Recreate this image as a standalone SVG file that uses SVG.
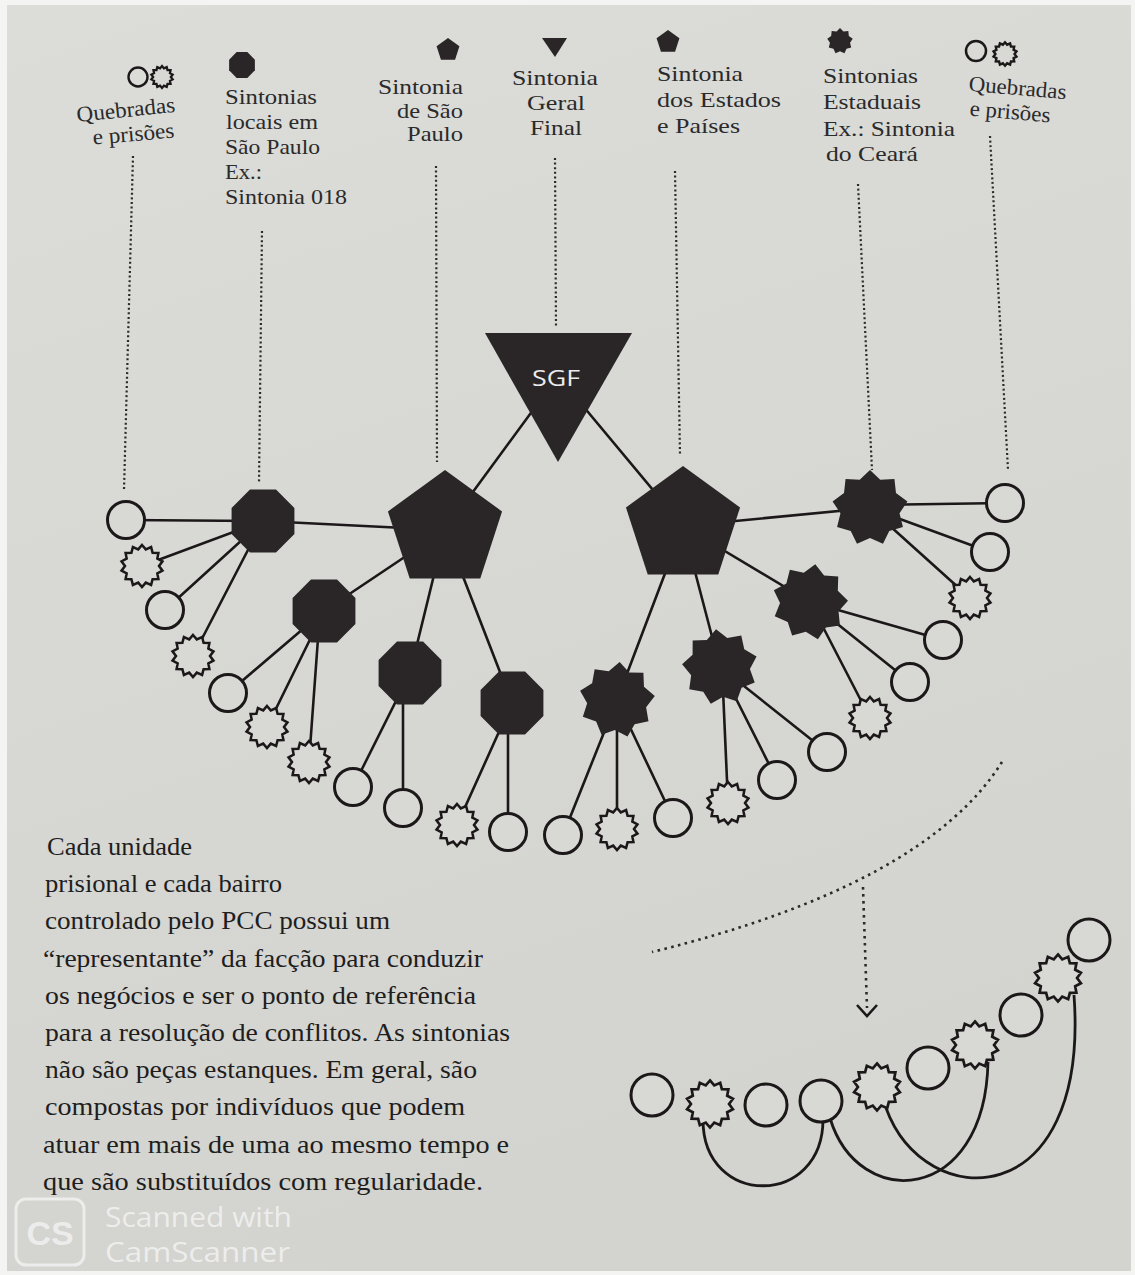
<svg xmlns="http://www.w3.org/2000/svg" xmlns:xlink="http://www.w3.org/1999/xlink" width="1135" height="1275" viewBox="0 0 1135 1275">
<style>
.paper{fill:url(#pg);}
.dark{fill:#2a2526;stroke:none;}
.hollow{fill:#d8d8d4;stroke:#1c1819;stroke-width:3;}
.gear{fill:#d8d8d4;stroke:#1c1819;stroke-width:2.5;stroke-linejoin:miter;}
.edge{stroke:#1c1819;stroke-width:2.6;fill:none;stroke-linecap:round;}
.arc{stroke:#1c1819;stroke-width:2.8;fill:none;}
.dot{stroke:#2a2a2a;stroke-width:2.2;stroke-dasharray:2 2.6;fill:none;}
.dotw{stroke:#2a2a2a;stroke-width:2.6;stroke-dasharray:2.6 4.4;fill:none;}
.lbl{font-family:"Liberation Serif","Times New Roman",serif;font-size:22px;fill:#2a2a2a;}
.para{font-family:"Liberation Serif","Times New Roman",serif;font-size:25px;fill:#1e1e1e;}
.wm{font-family:"Open Sans","Liberation Sans",sans-serif;font-size:27px;fill:#f4f4f4;opacity:.8;}
</style>
<defs>
<linearGradient id="pg" x1="0" y1="0" x2="0.3" y2="1">
<stop offset="0" stop-color="#dcdcd9"/>
<stop offset="1" stop-color="#d3d3cf"/>
</linearGradient>
<polygon id="gearShape" points="0,-21 3.78,-16.57 9.11,-18.92 10.6,-13.29 16.42,-13.09 15.32,-7.38 20.47,-4.67 17,0 20.47,4.67 15.32,7.38 16.42,13.09 10.6,13.29 9.11,18.92 3.78,16.57 0,21 -3.78,16.57 -9.11,18.92 -10.6,13.29 -16.42,13.09 -15.32,7.38 -20.47,4.67 -17,0 -20.47,-4.67 -15.32,-7.38 -16.42,-13.09 -10.6,-13.29 -9.11,-18.92 -3.78,-16.57"/>
<polygon id="starShape" points="0,-38 10.26,-28.19 24.43,-29.11 25.98,-15 37.42,-6.6 29.54,5.21 32.91,19 19.28,22.98 13,35.71 0,30 -13,35.71 -19.28,22.98 -32.91,19 -29.54,5.21 -37.42,-6.6 -25.98,-15 -24.43,-29.11 -10.26,-28.19"/>
<polygon id="octShape" points="13.01,-31.41 31.41,-13.01 31.41,13.01 13.01,31.41 -13.01,31.41 -31.41,13.01 -31.41,-13.01 -13.01,-31.41"/>
<polygon id="pentShape" points="0,-60 57.06,-18.54 35.27,48.54 -35.27,48.54 -57.06,-18.54"/>
</defs>

<rect x="0" y="0" width="1135" height="1275" fill="#f4f4f2"/>
<rect x="7" y="5" width="1124" height="1266" class="paper"/>

<!-- legend -->
<g id="legend">
  <g id="leg-quebradas-left">
    <circle cx="138" cy="77" r="9.5" fill="none" stroke="#1c1819" stroke-width="2.4"/>
    <use href="#gearShape" transform="translate(162,77) scale(.52)" class="gear" style="stroke-width:4.4"/>
    <text class="lbl" x="77" y="117" textLength="99" lengthAdjust="spacingAndGlyphs" transform="rotate(-6 126 117)">Quebradas</text>
    <text class="lbl" x="93" y="141" textLength="82" lengthAdjust="spacingAndGlyphs" transform="rotate(-5 134 141)">e prisões</text>
  </g>
  <g id="leg-locais">
    <use href="#octShape" transform="translate(242,65) scale(.41)" class="dark"/>
    <text class="lbl" x="225" y="104" textLength="92" lengthAdjust="spacingAndGlyphs">Sintonias</text>
    <text class="lbl" x="226" y="129" textLength="92" lengthAdjust="spacingAndGlyphs">locais em</text>
    <text class="lbl" x="225" y="154" textLength="95" lengthAdjust="spacingAndGlyphs">São Paulo</text>
    <text class="lbl" x="225" y="179" textLength="37" lengthAdjust="spacingAndGlyphs">Ex.:</text>
    <text class="lbl" x="225" y="204" textLength="122" lengthAdjust="spacingAndGlyphs">Sintonia 018</text>
  </g>
  <g id="leg-sp">
    <use href="#pentShape" transform="translate(448,50) scale(.2)" class="dark"/>
    <text class="lbl" x="378" y="94" textLength="85" lengthAdjust="spacingAndGlyphs">Sintonia</text>
    <text class="lbl" x="397" y="118" textLength="66" lengthAdjust="spacingAndGlyphs">de São</text>
    <text class="lbl" x="407" y="141" textLength="56" lengthAdjust="spacingAndGlyphs">Paulo</text>
  </g>
  <g id="leg-sgf">
    <polygon points="542,38 567,38 555,57" class="dark"/>
    <text class="lbl" x="512" y="85" textLength="86" lengthAdjust="spacingAndGlyphs">Sintonia</text>
    <text class="lbl" x="527" y="110" textLength="58" lengthAdjust="spacingAndGlyphs">Geral</text>
    <text class="lbl" x="530" y="135" textLength="52" lengthAdjust="spacingAndGlyphs">Final</text>
  </g>
  <g id="leg-estados">
    <use href="#pentShape" transform="translate(668,42) scale(.2)" class="dark"/>
    <text class="lbl" x="657" y="81" textLength="86" lengthAdjust="spacingAndGlyphs">Sintonia</text>
    <text class="lbl" x="657" y="107" textLength="124" lengthAdjust="spacingAndGlyphs">dos Estados</text>
    <text class="lbl" x="657" y="133" textLength="83" lengthAdjust="spacingAndGlyphs">e Países</text>
  </g>
  <g id="leg-estaduais">
    <use href="#starShape" transform="translate(840,41) scale(.34)" class="dark"/>
    <text class="lbl" x="823" y="83" textLength="95" lengthAdjust="spacingAndGlyphs">Sintonias</text>
    <text class="lbl" x="823" y="109" textLength="98" lengthAdjust="spacingAndGlyphs">Estaduais</text>
    <text class="lbl" x="823" y="136" textLength="132" lengthAdjust="spacingAndGlyphs">Ex.: Sintonia</text>
    <text class="lbl" x="826" y="161" textLength="92" lengthAdjust="spacingAndGlyphs">do Ceará</text>
  </g>
  <g id="leg-quebradas-right">
    <circle cx="976" cy="51" r="10" fill="none" stroke="#1c1819" stroke-width="2.5"/>
    <use href="#gearShape" transform="translate(1005,54) scale(.56)" class="gear" style="stroke-width:4.3"/>
    <text class="lbl" x="968" y="95" textLength="98" lengthAdjust="spacingAndGlyphs" transform="rotate(5 1017 95)">Quebradas</text>
    <text class="lbl" x="969" y="119" textLength="81" lengthAdjust="spacingAndGlyphs" transform="rotate(5 1010 119)">e prisões</text>
  </g>
</g>

<!-- connectors -->
<g id="connectors">
  <path class="dot" d="M133,156 L124,490"/>
  <path class="dot" d="M262,231 L259,482"/>
  <path class="dot" d="M436,166 L437,462"/>
  <path class="dot" d="M555,158 L556,326"/>
  <path class="dot" d="M675,171 L680,455"/>
  <path class="dot" d="M858,184 L872,470"/>
  <path class="dot" d="M990,136 L1008,470"/>

  <line class="edge" x1="558" y1="376" x2="445" y2="530"/>
  <line class="edge" x1="558" y1="376" x2="683" y2="526"/>

  <line class="edge" x1="445" y1="530" x2="263" y2="521"/>
  <line class="edge" x1="445" y1="530" x2="324" y2="611"/>
  <line class="edge" x1="445" y1="530" x2="410" y2="673"/>
  <line class="edge" x1="445" y1="530" x2="512" y2="703"/>

  <line class="edge" x1="263" y1="521" x2="126" y2="520"/>
  <line class="edge" x1="263" y1="521" x2="142" y2="566"/>
  <line class="edge" x1="263" y1="521" x2="165" y2="610"/>
  <line class="edge" x1="263" y1="521" x2="193" y2="656"/>

  <line class="edge" x1="324" y1="611" x2="228" y2="693"/>
  <line class="edge" x1="324" y1="611" x2="267" y2="727"/>
  <line class="edge" x1="320" y1="611" x2="309" y2="762"/>

  <line class="edge" x1="410" y1="673" x2="353" y2="787"/>
  <line class="edge" x1="403" y1="673" x2="403" y2="808"/>

  <line class="edge" x1="512" y1="703" x2="457" y2="825"/>
  <line class="edge" x1="508" y1="703" x2="508" y2="832"/>

  <line class="edge" x1="683" y1="526" x2="870" y2="508"/>
  <line class="edge" x1="683" y1="526" x2="810" y2="602"/>
  <line class="edge" x1="683" y1="526" x2="720" y2="667"/>
  <line class="edge" x1="683" y1="526" x2="617" y2="700"/>

  <line class="edge" x1="870" y1="505" x2="1005" y2="503"/>
  <line class="edge" x1="870" y1="508" x2="990" y2="552"/>
  <line class="edge" x1="870" y1="508" x2="970" y2="598"/>

  <line class="edge" x1="810" y1="602" x2="943" y2="640"/>
  <line class="edge" x1="810" y1="602" x2="910" y2="682"/>
  <line class="edge" x1="810" y1="602" x2="870" y2="718"/>

  <line class="edge" x1="720" y1="667" x2="827" y2="752"/>
  <line class="edge" x1="720" y1="667" x2="777" y2="780"/>
  <line class="edge" x1="722" y1="667" x2="728" y2="803"/>

  <line class="edge" x1="617" y1="700" x2="563" y2="835"/>
  <line class="edge" x1="617" y1="700" x2="617" y2="829"/>
  <line class="edge" x1="617" y1="700" x2="673" y2="818"/>

  <path class="dotw" d="M1002,762 Q925,885 652,952"/>
  <path class="dotw" d="M863,887 L867,1008"/>
  <polyline points="857,1005 867,1016 877,1005" fill="none" stroke="#1c1819" stroke-width="2.6"/>

  <path class="arc" d="M703,1120 C703,1208 824,1208 823,1118"/>
  <path class="arc" d="M830,1118 C858,1212 985,1205 988,1062"/>
  <path class="arc" d="M886,1108 C925,1215 1090,1215 1074,995"/>
</g>

<!-- main nodes -->
<g id="sgf"><polygon points="485,333 632,333 558,462" class="dark"/><text x="556" y="386" text-anchor="middle" font-family="'Open Sans','Noto Sans',sans-serif" font-size="22" fill="#ececec" textLength="48" lengthAdjust="spacingAndGlyphs">SGF</text></g>
<g id="sp"><use href="#pentShape" transform="translate(445,530)" class="dark"/></g>
<g id="estados"><use href="#pentShape" transform="translate(683,526)" class="dark"/></g>
<g id="oct1"><use href="#octShape" transform="translate(263,521)" class="dark"/></g>
<g id="oct2"><use href="#octShape" transform="translate(324,611)" class="dark"/></g>
<g id="oct3"><use href="#octShape" transform="translate(410,673)" class="dark"/></g>
<g id="oct4"><use href="#octShape" transform="translate(512,703)" class="dark"/></g>
<g id="star1"><use href="#starShape" transform="translate(870,508)" class="dark"/></g>
<g id="star2"><use href="#starShape" transform="translate(810,602) rotate(8)" class="dark"/></g>
<g id="star3"><use href="#starShape" transform="translate(720,667) rotate(-6)" class="dark"/></g>
<g id="star4"><use href="#starShape" transform="translate(617,700) rotate(4)" class="dark"/></g>

<!-- leaves -->
<g id="c1"><circle cx="126" cy="520" r="18.5" class="hollow"/></g>
<g id="g1"><use href="#gearShape" transform="translate(142,566)" class="gear"/></g>
<g id="c2"><circle cx="165" cy="610" r="18.5" class="hollow"/></g>
<g id="g2"><use href="#gearShape" transform="translate(193,656)" class="gear"/></g>
<g id="c3"><circle cx="228" cy="693" r="18.5" class="hollow"/></g>
<g id="g3"><use href="#gearShape" transform="translate(267,727)" class="gear"/></g>
<g id="g4"><use href="#gearShape" transform="translate(309,762)" class="gear"/></g>
<g id="c4"><circle cx="353" cy="787" r="18.5" class="hollow"/></g>
<g id="c5"><circle cx="403" cy="808" r="18.5" class="hollow"/></g>
<g id="g5"><use href="#gearShape" transform="translate(457,825)" class="gear"/></g>
<g id="c6"><circle cx="508" cy="832" r="18.5" class="hollow"/></g>
<g id="c7"><circle cx="563" cy="835" r="18.5" class="hollow"/></g>
<g id="g6"><use href="#gearShape" transform="translate(617,829)" class="gear"/></g>
<g id="c8"><circle cx="673" cy="818" r="18.5" class="hollow"/></g>
<g id="g7"><use href="#gearShape" transform="translate(728,803)" class="gear"/></g>
<g id="c9"><circle cx="777" cy="780" r="18.5" class="hollow"/></g>
<g id="c10"><circle cx="827" cy="752" r="18.5" class="hollow"/></g>
<g id="g8"><use href="#gearShape" transform="translate(870,718)" class="gear"/></g>
<g id="c11"><circle cx="910" cy="682" r="18.5" class="hollow"/></g>
<g id="c12"><circle cx="943" cy="640" r="18.5" class="hollow"/></g>
<g id="g9"><use href="#gearShape" transform="translate(970,598)" class="gear"/></g>
<g id="c13"><circle cx="990" cy="552" r="18.5" class="hollow"/></g>
<g id="c14"><circle cx="1005" cy="503" r="18.5" class="hollow"/></g>

<!-- chain -->
<g id="ch1"><circle cx="652" cy="1095" r="21" class="hollow"/></g>
<g id="ch2"><use href="#gearShape" transform="translate(710,1104) scale(1.12)" class="gear" style="stroke-width:2.4"/></g>
<g id="ch3"><circle cx="766" cy="1105" r="21" class="hollow"/></g>
<g id="ch4"><circle cx="821" cy="1101" r="21" class="hollow"/></g>
<g id="ch5"><use href="#gearShape" transform="translate(877,1087) scale(1.12)" class="gear" style="stroke-width:2.4"/></g>
<g id="ch6"><circle cx="928" cy="1068" r="21" class="hollow"/></g>
<g id="ch7"><use href="#gearShape" transform="translate(975,1045) scale(1.12)" class="gear" style="stroke-width:2.4"/></g>
<g id="ch8"><circle cx="1021" cy="1015" r="21" class="hollow"/></g>
<g id="ch9"><use href="#gearShape" transform="translate(1058,978) scale(1.12)" class="gear" style="stroke-width:2.4"/></g>
<g id="ch10"><circle cx="1089" cy="940" r="21" class="hollow"/></g>

<!-- paragraph -->
<g id="paragraph">
<text class="para" x="47" y="855" textLength="145" lengthAdjust="spacingAndGlyphs">Cada unidade</text>
<text class="para" x="45" y="892" textLength="237" lengthAdjust="spacingAndGlyphs">prisional e cada bairro</text>
<text class="para" x="45" y="929" textLength="345" lengthAdjust="spacingAndGlyphs">controlado pelo PCC possui um</text>
<text class="para" x="43" y="967" textLength="440" lengthAdjust="spacingAndGlyphs">“representante” da facção para conduzir</text>
<text class="para" x="45" y="1004" textLength="431" lengthAdjust="spacingAndGlyphs">os negócios e ser o ponto de referência</text>
<text class="para" x="45" y="1041" textLength="465" lengthAdjust="spacingAndGlyphs">para a resolução de conflitos. As sintonias</text>
<text class="para" x="45" y="1078" textLength="432" lengthAdjust="spacingAndGlyphs">não são peças estanques. Em geral, são</text>
<text class="para" x="45" y="1115" textLength="420" lengthAdjust="spacingAndGlyphs">compostas por indivíduos que podem</text>
<text class="para" x="43" y="1153" textLength="466" lengthAdjust="spacingAndGlyphs">atuar em mais de uma ao mesmo tempo e</text>
<text class="para" x="43" y="1190" textLength="440" lengthAdjust="spacingAndGlyphs">que são substituídos com regularidade.</text>
</g>

<!-- watermark -->
<g id="watermark">
<rect x="16" y="1199" width="68" height="66" rx="10" fill="none" stroke="#f2f2f2" stroke-width="3" opacity=".8"/>
<text x="50" y="1245" text-anchor="middle" font-family="'Liberation Sans',sans-serif" font-weight="bold" font-size="34" fill="#f2f2f2" opacity=".8">CS</text>
<text class="wm" x="105" y="1227" textLength="187" lengthAdjust="spacingAndGlyphs">Scanned with</text>
<text class="wm" x="105" y="1262" textLength="185" lengthAdjust="spacingAndGlyphs">CamScanner</text>
</g>
</svg>
